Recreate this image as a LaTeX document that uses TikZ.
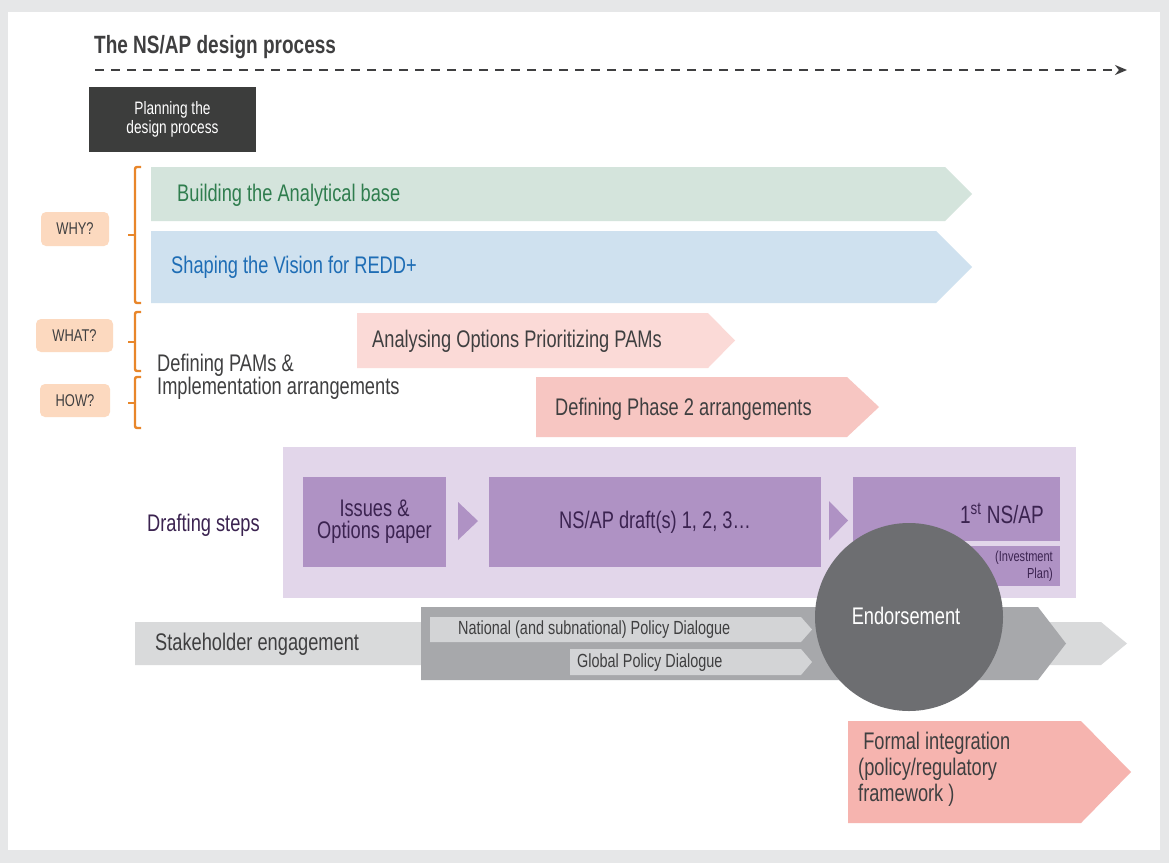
\documentclass[tikz,border=0pt]{standalone}
\usepackage{fontspec}
\setmainfont{Liberation Sans}[FakeStretch=0.76]
\usetikzlibrary{arrows.meta}
\definecolor{bggray}{HTML}{E6E7E8}
\definecolor{txtgray}{HTML}{3F3F40}
\definecolor{planbox}{HTML}{3C3D3C}
\definecolor{greenfill}{HTML}{D4E4DC}
\definecolor{greentxt}{HTML}{2F7D4E}
\definecolor{bluefill}{HTML}{CFE1EF}
\definecolor{bluetxt}{HTML}{1E6DB5}
\definecolor{bracecol}{HTML}{E8862A}
\definecolor{peach}{HTML}{FCD9BF}
\definecolor{pinkA}{HTML}{FBDAD7}
\definecolor{pinkB}{HTML}{F7C6C2}
\definecolor{lavender}{HTML}{E2D6EA}
\definecolor{purplebox}{HTML}{AF92C4}
\definecolor{purpletxt}{HTML}{3B2350}
\definecolor{lightgray}{HTML}{D9DADB}
\definecolor{midgray}{HTML}{A7A8AB}
\definecolor{policygray}{HTML}{D3D4D6}
\definecolor{circlegray}{HTML}{6D6E71}
\definecolor{formalpink}{HTML}{F6B4AF}
\newcommand{\ashape}[6]{\fill[#1] (#2,#3) -- (#4,#3) -- (#5,{(#3+#6)/2}) -- (#4,#6) -- (#2,#6) -- cycle;}
\begin{document}
\begin{tikzpicture}[x=1pt,y=-1pt,
  txt/.style={inner sep=0pt, text=txtgray, font=\fontsize{24}{23}\selectfont},
  smalltxt/.style={inner sep=0pt, text=txtgray, font=\fontsize{19}{19}\selectfont},
  peachbox/.style={fill=peach, rounded corners=5pt, inner sep=0pt, text=txtgray,
    font=\fontsize{17}{17}\selectfont},
  purple/.style={fill=purplebox, inner sep=0pt, text=purpletxt},
  bracket/.style={draw=bracecol, line width=2.4pt, rounded corners=2pt},
  chevron/.style={fill=purplebox}]
\useasboundingbox (0,0) rectangle (1169,863);
% background
\fill[bggray] (0,0) rectangle (1169,863);
\fill[white] (8,12) rectangle (1160,850);
% title and dashed arrow
\node[txt, anchor=west, font=\bfseries\fontsize{25}{25}\selectfont] (title) at (94,47) {The NS/AP design process};
\coordinate (dstart) at (95,70);
\coordinate (dend) at (1127,70);
\draw[txtgray, line width=2.4pt, dash pattern=on 9pt off 7pt, -{Stealth[length=12pt,width=10pt]}] (dstart) -- (dend);
% planning box
\node[fill=planbox, minimum width=167pt, minimum height=65pt, inner sep=0pt, text=white, align=center,
  font=\fontsize{18}{19}\selectfont] (plan) at (172.5,119.5) {Planning the\\design process};
% green / blue arrows
\ashape{greenfill}{151}{167}{945}{972}{221}
\node[txt, anchor=west, text=greentxt] (analytic) at (177,195) {Building the Analytical base};
\ashape{bluefill}{151}{231}{936}{972}{303}
\node[txt, anchor=west, text=bluetxt] (vision) at (171,267) {Shaping the Vision for REDD+};
% brackets
\draw[bracket] (141,167) -- (135,167) -- (135,303) -- (141,303);
\draw[bracket] (128,235) -- (135,235);
\draw[bracket] (141,312) -- (135,312) -- (135,371) -- (141,371);
\draw[bracket] (128,342) -- (135,342);
\draw[bracket] (141,377) -- (135,377) -- (135,428) -- (141,428);
\draw[bracket] (128,403) -- (135,403);
% peach labels
\node[peachbox, minimum width=68pt, minimum height=34pt] (why) at (75,229) {WHY?};
\node[peachbox, minimum width=77pt, minimum height=33pt] (what) at (74.5,335.5) {WHAT?};
\node[peachbox, minimum width=70pt, minimum height=33pt] (how) at (75,400.5) {HOW?};
\node[txt, anchor=west, align=left] (pams) at (157,377) {Defining PAMs \&\\Implementation arrangements};
% pink arrows
\ashape{pinkA}{357}{313}{708}{735}{368}
\node[txt, anchor=west] (options) at (372,341) {Analysing Options Prioritizing PAMs};
\ashape{pinkB}{536}{377}{847}{879}{437}
\node[txt, anchor=west] (phase2) at (555,409) {Defining Phase 2 arrangements};
% drafting steps
\fill[lavender] (283,447) rectangle (1076,598);
\node[txt, anchor=west, text=purpletxt] (drafting) at (147,525) {Drafting steps};
\node[purple, minimum width=143pt, minimum height=90pt, align=center, font=\fontsize{24}{22}\selectfont] (issues) at (374.5,522) {Issues \&\\Options paper};
\fill[chevron] (458,502) -- (478,521) -- (458,540) -- cycle;
\node[purple, minimum width=332pt, minimum height=90pt, font=\fontsize{24}{24}\selectfont] (drafts) at (655,522) {NS/AP draft(s) 1, 2, 3…};
\fill[chevron] (829,501) -- (848,520.5) -- (829,540) -- cycle;
\node[purple, minimum width=207pt, minimum height=64pt] (first) at (956.5,509) {};
\node[inner sep=0pt, text=purpletxt, anchor=east, font=\fontsize{25}{25}\selectfont] (firsttxt) at (1044,513) {1\textsuperscript{st} NS/AP};
\node[purple, minimum width=105pt, minimum height=40pt] (invest) at (1007.5,566) {};
\node[inner sep=0pt, text=purpletxt, anchor=east, align=right, font=\fontsize{14.5}{17}\selectfont] (investtxt) at (1053,566) {(Investment\\Plan)};
% stakeholder engagement
\ashape{lightgray}{135}{622}{1101}{1127}{665}
\ashape{midgray}{421}{607}{1038}{1066}{680}
\ashape{policygray}{430}{617}{801}{812}{642}
\ashape{policygray}{570}{649}{801}{812}{675}
\node[txt, anchor=west] (stake) at (155,644) {Stakeholder engagement};
\node[smalltxt, anchor=west] (national) at (458,630) {National (and subnational) Policy Dialogue};
\node[smalltxt, anchor=west] (global) at (577,663) {Global Policy Dialogue};
% endorsement
\node[circle, fill=circlegray, minimum size=188pt, inner sep=0pt] (endorse) at (909,617) {};
\node[inner sep=0pt, text=white, font=\fontsize{24}{24}\selectfont] (endtxt) at (906,616) {Endorsement};
% formal integration
\ashape{formalpink}{848}{721}{1081}{1131}{823}
\node[txt, anchor=north west, align=left, font=\fontsize{24}{26}\selectfont] (formal) at (858,732) {\ Formal integration\\(policy/regulatory\\framework )};
\end{tikzpicture}
\end{document}
